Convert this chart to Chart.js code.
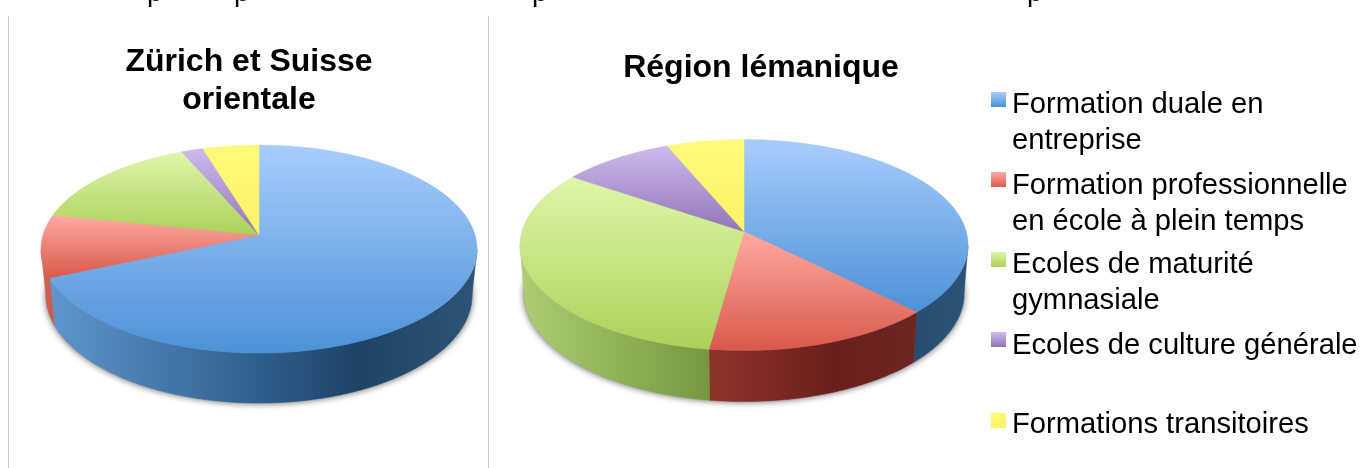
<!DOCTYPE html>
<html lang="fr">
<head>
<meta charset="utf-8">
<title>Pie charts</title>
<script src="https://cdn.jsdelivr.net/npm/chart.js@4"></script>
<style>
html,body{margin:0;padding:0;background:#fff;width:1363px;height:468px;overflow:hidden}
#stage{position:relative;width:1363px;height:468px;overflow:hidden;filter:blur(.45px);font-family:"Liberation Sans",Arial,sans-serif;color:#000}
.rule{position:absolute;top:16px;bottom:0;width:1px;background:#c6c6c6}
canvas{position:absolute}
.frag{position:absolute;font-size:28px;line-height:28px;top:-22px}
.sw{position:absolute;left:991px;width:15px;height:15px}
.lg{position:absolute;left:1012px;font-size:29.2px;line-height:36px;white-space:nowrap}
</style>
</head>
<body>
<div id="stage">
  <div class="rule" style="left:8px"></div>
  <div class="rule" style="left:488px"></div>
  <span class="frag" style="left:147px">p</span>
  <span class="frag" style="left:234px">p</span>
  <span class="frag" style="left:532px">p</span>
  <span class="frag" style="left:1027px">p</span>
  <canvas id="c1" width="478" height="452" style="left:10px;top:16px;width:478px;height:452px"></canvas>
  <canvas id="c2" width="542" height="452" style="left:490px;top:16px;width:542px;height:452px"></canvas>
  <div id="legend"></div>
</div>
<script>
const categories = ["Formation duale en entreprise","Formation professionnelle en école à plein temps","Ecoles de maturité gymnasiale","Ecoles de culture générale","Formations transitoires"];
const legendLines = [["Formation duale en","entreprise"],["Formation professionnelle","en école à plein temps"],["Ecoles de maturité","gymnasiale"],["Ecoles de culture générale"],["Formations transitoires"]];
const zurichValues = [68.5, 9.7, 15.2, 1.85, 4.75];
const lemaniqueValues = [37.5, 14.7, 32.3, 9.2, 6.3];
const zurichTitle = ["Zürich et Suisse","orientale"];
const lemaniqueTitle = ["Région lémanique"];

const topColors = ["#a8cdfc","#ffaaa4","#def6aa","#ccbaee","#fff97a"];
const bottomColors = ["#4d91d7","#d9594b","#aed05a","#9275b7","#faf266"];
const baseColors = ["#7aaee8","#ec8278","#c6e382","#ae97d2","#fdf670"];
const wallStops = [
  [[0,"#6298d0"],[0.5,"#2f5f8c"],[0.72,"#1f4367"],[1,"#2d5376"]],
  [[0,"#d0604f"],[0.42,"#8c352b"],[0.7,"#6b1f1c"],[1,"#6d2c27"]],
  [[0,"#adcd74"],[0.42,"#779840"],[0.7,"#4f6a28"],[1,"#4f6a28"]],
  [[0,"#8a6ca8"],[1,"#4a3560"]],
  [[0,"#c8c24a"],[1,"#8a862e"]]
];
const legendTops = [92,172,252,332,413];
const legendTextTops = [85,166,245,326,405];

// Draws each arc element's own angles as a tilted, perspective-projected 3D pie.
const tilted = {
  id:'tilted',
  beforeDatasetDraw(chart,args,o){
    const meta = chart.getDatasetMeta(args.index), ctx = chart.ctx, arcs = meta.data;
    const first = arcs[0], cx = first.x + o.dx, cy = first.y, rx = first.outerRadius;
    const ry = rx*o.ratio, a = o.apex, s = Math.sqrt(1-a*a);
    const brx = rx + o.bottomDr, bry = o.bottomRy, bcy = cy + o.bottomDy;
    const proj = t => { const u=Math.cos(t), v=Math.sin(t), w=1+a*v; return [u*s/w,(v+a)/w]; };
    ctx.save();
    // soft shadow under the disc
    ctx.save();
    ctx.shadowColor='rgba(0,0,0,.55)'; ctx.shadowBlur=6; ctx.shadowOffsetY=1;
    ctx.fillStyle='#999';
    ctx.beginPath(); ctx.ellipse(cx,bcy,brx+0.5,bry,0,0,Math.PI*2); ctx.fill();
    ctx.restore();
    // side walls
    arcs.forEach((el,i)=>{
      const n=Math.max(2,Math.ceil((el.endAngle-el.startAngle)/0.006));
      let seg=[];
      const segs=[seg];
      for(let k=0;k<=n;k++){
        const p=proj(el.startAngle+(el.endAngle-el.startAngle)*k/n);
        if(p[1]>=-0.001){seg.push(p);} else if(seg.length){seg=[];segs.push(seg);}
      }
      const g=ctx.createLinearGradient(cx-rx,0,cx+rx,0);
      wallStops[i].forEach(st=>g.addColorStop(st[0],st[1]));
      segs.forEach(sg=>{
        if(sg.length<2) return;
        ctx.beginPath();
        sg.forEach((p,k)=>{const X=cx+p[0]*rx,Y=cy+p[1]*ry; k?ctx.lineTo(X,Y):ctx.moveTo(X,Y);});
        for(let k=sg.length-1;k>=0;k--){const p=sg[k];ctx.lineTo(cx+p[0]*brx,bcy+p[1]*bry);}
        ctx.closePath();
        ctx.fillStyle=g; ctx.strokeStyle=g; ctx.lineWidth=.5; ctx.fill(); ctx.stroke();
      });
    });
    // top surface
    arcs.forEach((el,i)=>{
      const n=Math.max(2,Math.ceil((el.endAngle-el.startAngle)/0.006));
      const apexY=cy+a*ry;
      const pts=[[cx,apexY]];
      for(let k=0;k<=n;k++){
        const p=proj(el.startAngle+(el.endAngle-el.startAngle)*k/n);
        pts.push([cx+p[0]*rx,cy+p[1]*ry]);
      }
      const ys=pts.map(p=>p[1]);
      const g=ctx.createLinearGradient(0,Math.min(...ys),0,Math.max(...ys));
      g.addColorStop(0,topColors[i]); g.addColorStop(1,bottomColors[i]);
      ctx.beginPath();
      pts.forEach((p,k)=>k?ctx.lineTo(p[0],p[1]):ctx.moveTo(p[0],p[1]));
      ctx.closePath();
      ctx.fillStyle=g; ctx.strokeStyle=g; ctx.lineWidth=.5; ctx.fill(); ctx.stroke();
    });
    ctx.restore();
    return false;
  }
};

function makeChart(id,values,title,radius,titleTop,padBottom,geom){
  return new Chart(document.getElementById(id),{
    type:'pie',
    plugins:[tilted],
    data:{labels:categories,datasets:[{data:values,backgroundColor:baseColors,borderWidth:0,radius:radius}]},
    options:{
      responsive:false,animation:false,
      layout:{padding:{bottom:padBottom}},
      plugins:{
        legend:{display:false},tooltip:{enabled:false},
        title:{display:true,text:title,color:'#000',
          font:{family:'"Liberation Sans",Arial,sans-serif',size:32,weight:'bold',lineHeight:1.19},
          padding:{top:titleTop,bottom:0}},
        tilted:geom
      }
    }
  });
}
makeChart('c1',zurichValues,zurichTitle,218,27,89,{dx:10,ratio:104/218,apex:-0.135,bottomDr:-5,bottomRy:108,bottomDy:46});
makeChart('c2',lemaniqueValues,lemaniqueTitle,224,33,65,{dx:-17,ratio:105.5/224,apex:-0.128,bottomDr:-4,bottomRy:108,bottomDy:48.5});

const lg=document.getElementById('legend');
legendLines.forEach((lines,i)=>{
  const sw=document.createElement('div');
  sw.className='sw'; sw.style.top=legendTops[i]+'px';
  sw.style.background=`linear-gradient(${topColors[i]},${bottomColors[i]})`;
  lg.appendChild(sw);
  const t=document.createElement('div');
  t.className='lg'; t.style.top=legendTextTops[i]+'px';
  t.innerHTML=lines.join('<br>');
  lg.appendChild(t);
});
</script>
</body>
</html>
